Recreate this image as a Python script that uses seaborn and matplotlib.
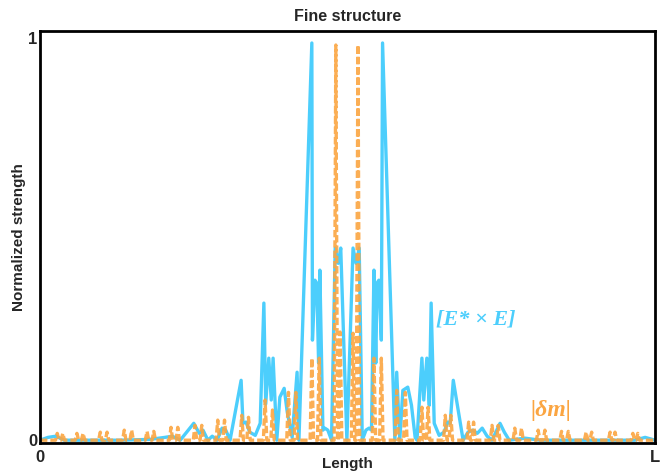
import numpy as np
import pandas as pd
import seaborn as sns
import matplotlib.pyplot as plt

# field intensity [E* x E] along the device (x in units of L)
field_x = [0.000, 0.013, 0.026, 0.039, 0.081, 0.130, 0.179, 0.203, 0.215, 0.228,
           0.250, 0.259, 0.265, 0.273, 0.280, 0.288, 0.296, 0.302, 0.309, 0.327,
           0.330, 0.335, 0.341, 0.350, 0.358, 0.364, 0.367, 0.372, 0.376, 0.379,
           0.385, 0.390, 0.397, 0.402, 0.410, 0.418, 0.421, 0.442, 0.443, 0.447,
           0.450, 0.453, 0.455, 0.460, 0.463, 0.468, 0.474, 0.480, 0.485, 0.489,
           0.499, 0.509, 0.514, 0.519, 0.524, 0.530, 0.535, 0.539, 0.543, 0.546,
           0.548, 0.551, 0.555, 0.557, 0.577, 0.580, 0.585, 0.590, 0.598, 0.604,
           0.610, 0.613, 0.621, 0.624, 0.629, 0.633, 0.636, 0.641, 0.649, 0.657,
           0.663, 0.667, 0.672, 0.688, 0.696, 0.704, 0.711, 0.719, 0.727, 0.735,
           0.748, 0.755, 0.763, 0.789, 0.813, 0.846, 0.911, 0.967, 0.984, 1.000]
field_y = [0.000, 0.007, 0.010, 0.000, 0.000, 0.000, 0.002, 0.007, 0.010, 0.000,
           0.042, 0.017, 0.025, 0.000, 0.010, 0.000, 0.030, 0.025, 0.000, 0.149,
           0.042, 0.045, 0.020, 0.012, 0.042, 0.341, 0.090, 0.204, 0.100, 0.204,
           0.000, 0.107, 0.129, 0.070, 0.007, 0.169, 0.000, 0.988, 0.249, 0.398,
           0.391, 0.192, 0.423, 0.025, 0.030, 0.025, 0.000, 0.478, 0.440, 0.478,
           0.000, 0.478, 0.440, 0.478, 0.000, 0.025, 0.030, 0.025, 0.423, 0.192,
           0.391, 0.398, 0.249, 0.988, 0.000, 0.169, 0.000, 0.124, 0.132, 0.087,
           0.007, 0.000, 0.204, 0.100, 0.204, 0.087, 0.341, 0.042, 0.012, 0.020,
           0.045, 0.042, 0.149, 0.000, 0.020, 0.025, 0.017, 0.030, 0.010, 0.000,
           0.042, 0.020, 0.000, 0.005, 0.000, 0.000, 0.000, 0.000, 0.007, 0.000]

# |delta m| grating modulation: narrow spikes (centre, height)
spike_x = [0.028, 0.037, 0.060, 0.070, 0.098, 0.109, 0.137, 0.149, 0.174, 0.185,
           0.213, 0.224, 0.252, 0.263, 0.289, 0.300, 0.328, 0.339, 0.366, 0.378,
           0.404, 0.416, 0.442, 0.454, 0.481, 0.488,
           0.509, 0.517, 0.543, 0.555, 0.580, 0.594, 0.621, 0.631, 0.659, 0.668,
           0.697, 0.705, 0.735, 0.745, 0.772, 0.783, 0.810, 0.821, 0.848, 0.859,
           0.888, 0.897, 0.927, 0.935, 0.964, 0.972]
spike_h = [0.017, 0.017, 0.017, 0.017, 0.020, 0.020, 0.025, 0.025, 0.022, 0.022,
           0.032, 0.032, 0.037, 0.037, 0.050, 0.050, 0.062, 0.057, 0.100, 0.075,
           0.119, 0.119, 0.204, 0.204, 0.983, 0.269,
           0.266, 0.983, 0.204, 0.204, 0.124, 0.119, 0.082, 0.082, 0.062, 0.062,
           0.045, 0.045, 0.037, 0.037, 0.030, 0.030, 0.025, 0.025, 0.022, 0.022,
           0.020, 0.020, 0.020, 0.020, 0.017, 0.017]

BLUE = '#4ccefc'
ORANGE = '#fba541'

# turn each spike into a thin up/down stroke
half_w = 0.0028
dm_x, dm_y = [0.0], [0.0]
for c, h in zip(spike_x, spike_h):
    dm_x += [c - half_w, c, c + half_w]
    dm_y += [0.0, h, 0.0]
dm_x.append(1.0)
dm_y.append(0.0)

df_field = pd.DataFrame({'x': field_x, 'y': field_y})
df_dm = pd.DataFrame({'x': dm_x, 'y': dm_y})

sns.set_theme(style='white')
plt.rcParams['font.family'] = ['Liberation Sans', 'DejaVu Sans']

fig = plt.figure(figsize=(6.67, 4.72), dpi=100)
ax = fig.add_axes([0.060, 0.061, 0.922, 0.873])

sns.lineplot(data=df_field, x='x', y='y', sort=False, estimator=None,
             color=BLUE, lw=2.4, ax=ax)
sns.lineplot(data=df_dm, x='x', y='y', sort=False, estimator=None,
             color=ORANGE, lw=2.4, alpha=0.9, ax=ax)
ax.lines[-1].set_dashes([2.2, 0.9])

ax.set_xlim(0, 1)
ax.set_ylim(-0.0075, 1.0175)
ax.set_xticks([0, 1], ['0', 'L'])
ax.set_yticks([0, 1], ['0', '1'])
ax.tick_params(length=0, labelsize=12)
ax.tick_params(axis='x', pad=5)
ax.tick_params(axis='y', pad=2)
for lbl in ax.get_xticklabels() + ax.get_yticklabels():
    lbl.set_fontweight('bold')

ax.set_title('Fine structure', fontsize=11.5, fontweight='bold', pad=7)
ax.set_xlabel('Length', fontsize=11, fontweight='bold')
ax.set_ylabel('Normalized strength', fontsize=11, fontweight='bold')
ax.xaxis.set_label_coords(0.5, -0.034)
ax.yaxis.set_label_coords(-0.022, 0.5)

for s in ax.spines.values():
    s.set_color('black')
    s.set_linewidth(2)

serif = ['Liberation Serif', 'DejaVu Serif']
ax.text(0.644, 0.30, '[E* \u00d7 E]', color=BLUE, fontsize=16, family=serif,
        fontstyle='italic', fontweight='bold', va='center', ha='left')
ax.text(0.797, 0.075, '|\u03b4m|', color=ORANGE, fontsize=17, family=serif,
        fontstyle='italic', fontweight='bold', va='center', ha='left')

fig.savefig('out.png', dpi=100)
